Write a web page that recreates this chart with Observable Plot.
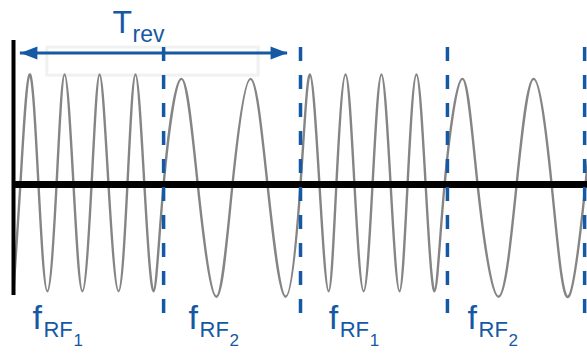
<!DOCTYPE html>
<html>
<head>
<meta charset="utf-8">
<script src="https://cdn.jsdelivr.net/npm/d3@7"></script>
<script src="https://cdn.jsdelivr.net/npm/@observablehq/plot@0.6"></script>
<style>
  html, body { margin: 0; padding: 0; background: #fff; }
  #chart svg { display: block; }
</style>
</head>
<body>
<div id="chart"></div>
<script>
// Time in units of T_rev; signal amplitude normalised.
// Key points of the RF waveform (zero crossings, peaks, troughs)
const waveT = [
  0.000, 0.024, 0.056, 0.087, 0.118, 0.150, 0.178, 0.209, 0.240, 0.272, 0.300, 0.331, 0.366, 0.397, 0.425, 0.456, 0.488, 0.523,
  0.585, 0.642, 0.707, 0.763, 0.826, 0.885, 0.948, 1.000,
  1.033, 1.066, 1.098, 1.125, 1.157, 1.188, 1.220, 1.251, 1.282, 1.314, 1.345, 1.373, 1.404, 1.436, 1.467, 1.502,
  1.564, 1.617, 1.690, 1.753, 1.812, 1.875, 1.934, 1.993, 2.000
];
const waveV = [
  -0.97, 0, 1.0, 0, -0.97, 0, 1.0, 0, -0.97, 0, 1.0, 0, -0.97, 0, 1.0, 0, -0.97, 0,
  0.96, 0, -1.02, 0, 0.96, 0, -1.02, 0,
  1.0, 0, -0.97, 0, 1.0, 0, -0.97, 0, 1.0, 0, -0.97, 0, 1.0, 0, -0.97, 0,
  0.96, 0, -1.02, 0, 0.96, 0, -1.02, 0, 0.15
];

// Boundaries between fRF1 and fRF2 sections (dashed lines)
const switchT = [0.523, 1.0, 1.512, 1.990];

// Section labels
const labelT = [0.066, 0.610, 1.098, 1.582];
const labelIndex = ["1", "2", "1", "2"];
const labelBase = "f";
const labelSub = "RF";
const labelY = -1.318;

// Revolution period annotation
const arrowX = [0.024, 0.955];
const arrowY = 1.195;
const revTitle = "T";
const revSub = "rev";
const revX = 0.345;
const revY = 1.373;

// Axes extents
const axisTop = 1.309, axisBottom = -1.009;
const dashTop = 1.245, dashBottom = -1.2;
const boxX = [0.118, 0.854], boxY = [0.99, 1.245];

const wave = waveT.map((t, i) => ({t, v: waveV[i]}));
const labels = labelT.map((t, i) => ({t, n: labelIndex[i]}));

const blue = "#1559a5";
const font = "Liberation Sans, Arial, Helvetica, sans-serif";

const headRight = {
  draw(context) {
    context.moveTo(0, 0);
    context.lineTo(-17, -6.5);
    context.lineTo(-17, 6.5);
    context.closePath();
  }
};

const chart = Plot.plot({
  width: 587,
  height: 358,
  margin: 0,
  style: {background: "#fff", overflow: "visible", fontFamily: font},
  x: {domain: [0, 2], range: [13, 587], axis: null},
  y: {domain: [-1, 1], range: [294, 74], axis: null},
  marks: [
    Plot.rect([0], {x1: boxX[0], x2: boxX[1], y1: boxY[0], y2: boxY[1], fill: "#fff", stroke: "#f1f1f1", strokeWidth: 3}),
    Plot.line(wave, {x: "t", y: "v", curve: "natural", stroke: "#858585", strokeWidth: 2.4}),
    Plot.ruleY([0], {x1: 0, x2: 2, stroke: "#000", strokeWidth: 7}),
    Plot.ruleX([0], {y1: axisTop, y2: axisBottom, stroke: "#000", strokeWidth: 4}),
    Plot.ruleX(switchT, {y1: dashTop, y2: dashBottom, stroke: blue, strokeWidth: 3.5, strokeDasharray: "14,14"}),
    Plot.ruleY([arrowY], {x1: arrowX[0], x2: arrowX[1], stroke: blue, strokeWidth: 3}),
    Plot.dot([arrowX[1]], {x: d => d, y: arrowY, symbol: headRight, fill: blue, stroke: null, rotate: 0}),
    Plot.dot([arrowX[0]], {x: d => d, y: arrowY, symbol: headRight, fill: blue, stroke: null, rotate: 180}),
    Plot.text([revTitle], {x: revX, y: revY, text: d => d, textAnchor: "start", lineAnchor: "bottom", fontSize: 32, fill: blue}),
    Plot.text([revSub], {x: revX, y: revY, text: d => d, dx: 20, dy: 9, textAnchor: "start", lineAnchor: "bottom", fontSize: 23, fill: blue}),
    Plot.text(labels, {x: "t", y: labelY, text: () => labelBase, textAnchor: "start", lineAnchor: "bottom", fontSize: 34, fill: blue}),
    Plot.text(labels, {x: "t", y: labelY, text: () => labelSub, dx: 11, dy: 8, textAnchor: "start", lineAnchor: "bottom", fontSize: 22, fill: blue}),
    Plot.text(labels, {x: "t", y: labelY, text: "n", dx: 41, dy: 17, textAnchor: "start", lineAnchor: "bottom", fontSize: 17, fill: blue})
  ]
});
document.getElementById("chart").appendChild(chart);
</script>
</body>
</html>
